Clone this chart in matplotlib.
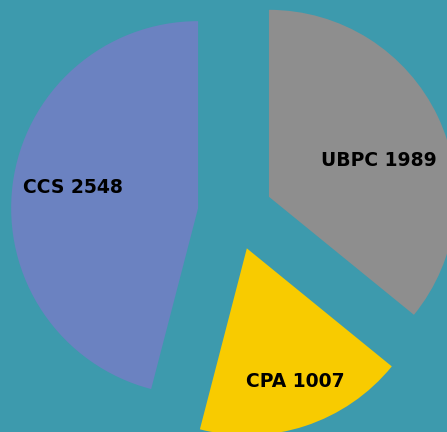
import numpy as np
import matplotlib.pyplot as plt

labels = ["UBPC", "CPA", "CCS"]
values = [1989, 1007, 2548]
colors = ["#8e8e8e", "#f8cb00", "#6b82c1"]
bg = "#3d9aad"

fig = plt.figure(figsize=(4.47, 4.32), dpi=100, facecolor=bg)
ax = fig.add_axes([0, 0, 1, 1])
ax.set_facecolor(bg)

wedges, _ = ax.pie(values, colors=colors, explode=[0.2] * 3, startangle=90,
                   counterclock=False, radius=1.0,
                   wedgeprops=dict(linewidth=0))

# label placement: distance from wedge apex (in radii) and angle tweak
label_r = [0.62, 0.76, 0.68]
label_dang = [-7, 2, -2]
for w, name, v, r, da in zip(wedges, labels, values, label_r, label_dang):
    mid = np.deg2rad((w.theta1 + w.theta2) / 2 + da)
    cx, cy = w.center
    ax.text(cx + r * np.cos(mid), cy + r * np.sin(mid), f"{name} {v}",
            ha="center", va="center", fontsize=13.5, fontweight="bold",
            color="black", family="DejaVu Sans")

ax.set_aspect("equal")
ax.set_xlim(-1.258, 1.133)
ax.set_ylim(-1.172, 1.138)
ax.axis("off")

plt.savefig("out.png", dpi=100, facecolor=bg)
